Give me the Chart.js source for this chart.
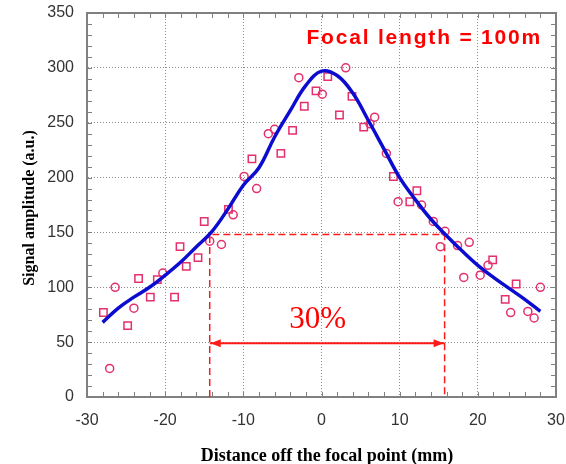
<!DOCTYPE html>
<html>
<head>
<meta charset="utf-8">
<script src="https://cdn.jsdelivr.net/npm/chart.js@4.4.1/dist/chart.umd.min.js"></script>
<style>
   html, body { margin: 0; padding: 0; background: #ffffff; }
   #wrap { width: 566px; height: 464px; }
</style>
</head>
<body>
<div id="wrap"><canvas id="focusChart" width="566" height="464"></canvas></div>
<script>
// fitted curve
const fitX = [-28, -26, -24, -22, -20, -18, -16, -14, -12, -10, -8, -6, -4, -2, 0, 2, 4, 6, 8, 10, 12, 14, 16, 18, 20, 22, 24, 26, 28];
const fitY = [68, 81, 91, 100, 111, 123, 137, 151, 171, 193, 209, 237, 261, 284, 297, 293, 277, 252, 226, 200, 180, 162, 147, 133, 120, 109, 99, 89, 78];

// measured points, square markers
const squareX = [-27.9, -24.8, -23.4, -21.9, -21.0, -18.8, -18.1, -17.3, -15.8, -15.0, -11.9, -8.9, -5.2, -3.7, -2.2, -0.7, 0.8, 2.3, 3.9, 5.4, 9.2, 11.3, 12.2, 21.9, 23.5, 24.9];
const squareY = [77, 65, 108, 91, 107, 91, 137, 119, 127, 160, 171, 217, 222, 243, 265, 279, 292, 257, 274, 246, 201, 178, 188, 125, 89, 103];

// measured points, circle markers
const circleX = [-27.1, -26.4, -24.0, -20.3, -14.3, -12.8, -11.3, -9.9, -8.3, -6.8, -6.0, -2.9, 0.1, 3.1, 6.2, 6.8, 8.3, 9.8, 12.8, 14.3, 15.8, 15.2, 17.4, 18.9, 18.2, 20.3, 21.3, 24.2, 26.4, 27.2, 28.0];
const circleY = [26, 100, 81, 113, 142, 139, 166, 201, 190, 240, 244, 291, 276, 300, 249, 255, 222, 178, 175, 160, 151, 137, 138, 141, 109, 111, 120, 77, 78, 72, 100];

// half maximum marks
const halfLevel = 148;
const halfLeft = -14.3;
const halfRight = 15.75;
const arrowLevel = 49;

// axes
const xRange = [-30, 30];
const yRange = [0, 350];
const xMajorStep = 10;
const xMinorStep = 2;
const yMajorStep = 50;
const yMinorStep = 10;

const focalLabel = "Focal length = 100m";
const widthLabel = "30%";
const xTitle = "Distance off the focal point (mm)";
const yTitle = "Signal amplitude (a.u.)";

const markColor = "#e4306c";
const redColor = "#ff1a1a";
const axisGray = "#808080";

function toPoints(xs, ys)
{
   return xs.map(function(x, i)
   {
      return { x: x, y: ys[i] };
   });
}

function fixBox(scale, size)
{
   if (scale.isHorizontal())
   {
      scale.height = size;
   }
   else
   {
      scale.width = size;
   }
   // no extra room for the end labels, the layout padding gives it
   scale.paddingLeft = 0;
   scale.paddingRight = 0;
   scale.paddingTop = 0;
   scale.paddingBottom = 0;
}

const frameAndNotes =
{
   id: "frameAndNotes",
   beforeDatasetsDraw(chart)
   {
      const ctx = chart.ctx;
      const area = chart.chartArea;
      const xs = chart.scales.x;
      const ys = chart.scales.y;

      ctx.save();
      ctx.strokeStyle = axisGray;
      ctx.lineWidth = 1;
      ctx.beginPath();
      for (let v = xRange[0]; v <= xRange[1]; v += xMinorStep)
      {
         const px = Math.round(xs.getPixelForValue(v)) + 0.5;
         ctx.moveTo(px, area.bottom);
         ctx.lineTo(px, area.bottom - 5);
         ctx.moveTo(px, area.top);
         ctx.lineTo(px, area.top + 5);
      }
      for (let v = yRange[0]; v <= yRange[1]; v += yMinorStep)
      {
         const py = Math.round(ys.getPixelForValue(v)) + 0.5;
         ctx.moveTo(area.left, py);
         ctx.lineTo(area.left + 5, py);
         ctx.moveTo(area.right, py);
         ctx.lineTo(area.right - 5, py);
      }
      ctx.stroke();

      ctx.lineWidth = 2;
      ctx.beginPath();
      ctx.moveTo(area.left, area.top);
      ctx.lineTo(area.right, area.top);
      ctx.lineTo(area.right, area.bottom);
      ctx.stroke();
      ctx.restore();
   },
   afterDatasetsDraw(chart)
   {
      const ctx = chart.ctx;
      const area = chart.chartArea;
      const xs = chart.scales.x;
      const ys = chart.scales.y;

      ctx.save();

      // arrow heads
      const xl = xs.getPixelForValue(halfLeft);
      const xr = xs.getPixelForValue(halfRight);
      const ya = ys.getPixelForValue(arrowLevel);
      ctx.fillStyle = redColor;
      ctx.beginPath();
      ctx.moveTo(xl + 1, ya);
      ctx.lineTo(xl + 11, ya - 4);
      ctx.lineTo(xl + 11, ya + 4);
      ctx.closePath();
      ctx.moveTo(xr - 1, ya);
      ctx.lineTo(xr - 11, ya - 4);
      ctx.lineTo(xr - 11, ya + 4);
      ctx.closePath();
      ctx.fill();

      // labels
      ctx.fillStyle = "#ff0000";
      ctx.font = "bold 21px 'Liberation Sans', Arial, sans-serif";
      ctx.letterSpacing = "1.8px";
      ctx.textAlign = "right";
      ctx.textBaseline = "alphabetic";
      ctx.fillText(focalLabel, area.right - 14, area.top + 31);
      ctx.letterSpacing = "0px";

      ctx.font = "31px 'Liberation Serif', 'Times New Roman', serif";
      ctx.textAlign = "center";
      ctx.fillText(widthLabel, xs.getPixelForValue(-0.5), ys.getPixelForValue(63));

      ctx.fillStyle = "#000000";
      ctx.font = "bold 18px 'Liberation Serif', 'Times New Roman', serif";
      ctx.fillText(xTitle, 327, 461);

      ctx.translate(33.5, 208);
      ctx.rotate(-Math.PI / 2);
      ctx.font = "bold 16px 'Liberation Serif', 'Times New Roman', serif";
      ctx.fillText(yTitle, 0, 0);
      ctx.restore();
   }
};

const tickFont = { family: "'Liberation Sans', Arial, sans-serif", size: 16 };

const chart = new Chart(document.getElementById("focusChart"),
{
   type: "scatter",
   data:
   {
      datasets:
      [
         {
            label: "fit",
            data: toPoints(fitX, fitY),
            showLine: true,
            borderColor: "#0c0cd0",
            borderWidth: 3.5,
            pointRadius: 0,
            tension: 0.4,
            order: 1,
         },
         {
            label: "squares",
            data: toPoints(squareX, squareY),
            pointStyle: "rect",
            pointRadius: 5.2,
            borderColor: markColor,
            backgroundColor: "rgba(0,0,0,0)",
            borderWidth: 1.5,
            order: 2,
         },
         {
            label: "circles",
            data: toPoints(circleX, circleY),
            pointStyle: "circle",
            pointRadius: 4,
            borderColor: markColor,
            backgroundColor: "rgba(0,0,0,0)",
            borderWidth: 1.5,
            order: 2,
         },
         {
            label: "half",
            data: [
               { x: halfLeft, y: 0 },
               { x: halfLeft, y: halfLevel },
               { x: halfRight, y: halfLevel },
               { x: halfRight, y: 0 },
            ],
            showLine: true,
            borderColor: redColor,
            borderWidth: 1.5,
            borderDash: [7, 4],
            pointRadius: 0,
            tension: 0,
            order: 3,
         },
         {
            label: "arrow",
            data: [
               { x: halfLeft, y: arrowLevel },
               { x: halfRight, y: arrowLevel },
            ],
            showLine: true,
            borderColor: redColor,
            borderWidth: 2,
            pointRadius: 0,
            tension: 0,
            order: 3,
         },
      ],
   },
   options:
   {
      responsive: false,
      animation: false,
      devicePixelRatio: 1,
      layout: { padding: { top: 13, right: 10, left: 0, bottom: 0 } },
      plugins:
      {
         legend: { display: false },
         tooltip: { enabled: false },
      },
      scales:
      {
         x:
         {
            type: "linear",
            min: xRange[0],
            max: xRange[1],
            ticks: { stepSize: xMajorStep, font: tickFont, color: "#333333", padding: 14, maxRotation: 0 },
            grid: { color: "#8c8c8c", lineWidth: 1, drawTicks: false },
            border: { display: true, color: axisGray, width: 2, dash: [1, 2] },
            afterFit: function(scale) { fixBox(scale, 67); },
         },
         y:
         {
            type: "linear",
            min: yRange[0],
            max: yRange[1],
            ticks: { stepSize: yMajorStep, font: tickFont, color: "#333333", padding: 13 },
            grid: { color: "#8c8c8c", lineWidth: 1, drawTicks: false },
            border: { display: true, color: axisGray, width: 2, dash: [1, 2] },
            afterFit: function(scale) { fixBox(scale, 87); },
         },
      },
   },
   plugins: [frameAndNotes],
});
</script>
</body>
</html>
